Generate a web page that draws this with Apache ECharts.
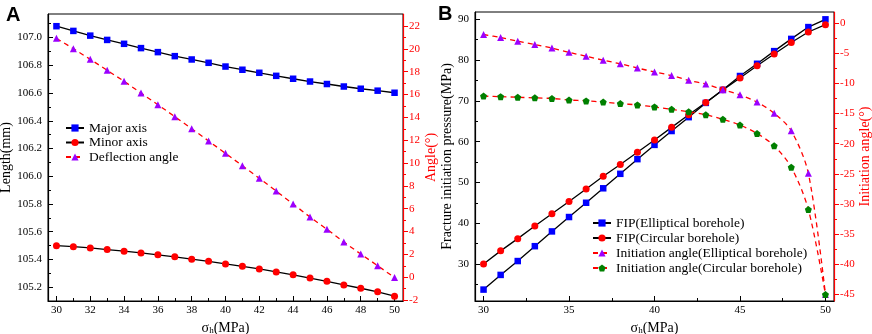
<!DOCTYPE html>
<html>
<head>
<meta charset="utf-8">
<script src="https://cdn.jsdelivr.net/npm/echarts@6/dist/echarts.min.js"></script>
<style>
  html, body { margin: 0; padding: 0; background: #fff; }
  #main { width: 872px; height: 334px; }
</style>
</head>
<body>
<div id="main"></div>
<script>
// x values (sigma_h, MPa), shared by both panels
const sigma = [30, 31, 32, 33, 34, 35, 36, 37, 38, 39, 40, 41, 42, 43, 44, 45, 46, 47, 48, 49, 50];

// panel A
const majorAxis = [107.082, 107.048, 107.014, 106.983, 106.955, 106.924, 106.895, 106.866, 106.842, 106.818,
  106.791, 106.768, 106.746, 106.724, 106.703, 106.683, 106.665, 106.647, 106.631, 106.617, 106.602];
const minorAxis = [105.499, 105.492, 105.483, 105.471, 105.459, 105.447, 105.433, 105.419, 105.402, 105.386,
  105.367, 105.350, 105.331, 105.310, 105.289, 105.265, 105.242, 105.216, 105.192, 105.166, 105.135];
const deflectionAngle = [20.92, 20.01, 19.08, 18.12, 17.16, 16.13, 15.11, 14.06, 13.01, 11.93,
  10.85, 9.76, 8.66, 7.55, 6.41, 5.27, 4.20, 3.08, 2.03, 1.01, -0.03];

// panel B
const fipElliptical = [23.7, 27.3, 30.7, 34.35, 37.97, 41.5, 45.0, 48.55, 52.1, 55.7,
  59.2, 62.6, 66.0, 69.5, 72.7, 76.1, 79.1, 82.2, 85.2, 88.1, 90.0];
const fipCircular = [30.0, 33.2, 36.2, 39.3, 42.3, 45.3, 48.4, 51.5, 54.4, 57.4,
  60.4, 63.5, 66.6, 69.6, 72.7, 75.6, 78.6, 81.5, 84.3, 86.9, 88.7];
const angleElliptical = [-1.9, -2.4, -3.0, -3.55, -4.15, -4.85, -5.5, -6.15, -6.75, -7.45,
  -8.1, -8.7, -9.5, -10.1, -11.05, -11.9, -13.1, -14.95, -17.85, -24.9, -45.0];
const angleCircular = [-12.1, -12.2, -12.3, -12.4, -12.5, -12.75, -12.9, -13.1, -13.35, -13.57,
  -13.9, -14.3, -14.7, -15.2, -15.95, -16.9, -18.3, -20.35, -23.9, -30.9, -45.0];

// tick values
const aXTicks = [30, 32, 34, 36, 38, 40, 42, 44, 46, 48, 50];
const aXMinor = [31, 33, 35, 37, 39, 41, 43, 45, 47, 49];
const aLeftTicks = [105.2, 105.4, 105.6, 105.8, 106.0, 106.2, 106.4, 106.6, 106.8, 107.0];
const aLeftMinor = [105.3, 105.5, 105.7, 105.9, 106.1, 106.3, 106.5, 106.7, 106.9, 107.1];
const aRightTicks = [-2, 0, 2, 4, 6, 8, 10, 12, 14, 16, 18, 20, 22];
const aRightMinor = [-1, 1, 3, 5, 7, 9, 11, 13, 15, 17, 19, 21];
const bXTicks = [30, 35, 40, 45, 50];
const bXMinor = [32.5, 37.5, 42.5, 47.5];
const bLeftTicks = [30, 40, 50, 60, 70, 80, 90];
const bLeftMinor = [25, 35, 45, 55, 65, 75, 85];
const bRightTicks = [0, -5, -10, -15, -20, -25, -30, -35, -40, -45];
const bRightMinor = [-2.5, -7.5, -12.5, -17.5, -22.5, -27.5, -32.5, -37.5, -42.5];

const serif = 'Liberation Serif';
const RED = '#ff0000';
const pentagon = 'path://M0,-1 L0.951,-0.309 L0.588,0.809 L-0.588,0.809 L-0.951,-0.309 Z';

const pairs = ys => ys.map((y, i) => [sigma[i], y]);

// sigma with subscript h
const sigmaName = {
  name: '{m|σ}{s|h}{m|(MPa)}',
  nameLocation: 'middle',
  nameGap: 16,
  nameTextStyle: {
    rich: {
      m: { fontFamily: serif, fontSize: 14, color: '#000', lineHeight: 14 },
      s: { fontFamily: serif, fontSize: 9, color: '#000', padding: [6, 0, 0, 0] }
    }
  }
};

const axis = (gridIndex, position, min, max, o) => ({
  type: 'value',
  gridIndex,
  position,
  min,
  max,
  axisLine: { show: !!o.line, onZero: false, lineStyle: { color: o.color || '#000', width: 1.2 } },
  axisTick: {
    show: true,
    inside: o.inside,
    length: o.minor ? 3 : 5,
    customValues: o.ticks,
    lineStyle: { color: o.color || '#000', width: 1 }
  },
  axisLabel: {
    show: !o.minor,
    customValues: o.minor ? [] : o.ticks,
    margin: o.margin || 6,
    color: o.color || '#000',
    fontFamily: serif,
    fontSize: 11,
    formatter: o.fmt
  },
  splitLine: { show: false },
  ...(o.name ? {
    name: o.name,
    nameLocation: 'middle',
    nameGap: o.gap,
    nameRotate: 90,
    nameTextStyle: { fontFamily: serif, fontSize: 14, color: o.color || '#000' }
  } : {}),
  ...(o.extra || {})
});

const lineSeries = (name, data, xi, yi, o) => ({
  name,
  type: 'line',
  data: pairs(data),
  xAxisIndex: xi,
  yAxisIndex: yi,
  symbol: o.symbol,
  symbolSize: o.size || 7,
  smooth: o.smooth || false,
  itemStyle: { color: o.color, opacity: 1 },
  lineStyle: o.dashed
    ? { color: RED, width: 1.3, type: [5, 4] }
    : { color: '#000', width: 1.3 },
  emphasis: { disabled: true },
  animation: false
});

const chart = echarts.init(document.getElementById('main'));

chart.setOption({
  animation: false,
  title: [
    { text: 'A', left: 1, top: 0, textStyle: { fontFamily: 'Liberation Sans', fontWeight: 'bold', fontSize: 20, color: '#000' } },
    { text: 'B', left: 433, top: -1, textStyle: { fontFamily: 'Liberation Sans', fontWeight: 'bold', fontSize: 20, color: '#000' } }
  ],
  grid: [
    { left: 48, top: 14, width: 355, height: 287, show: true, borderColor: '#000', borderWidth: 1, outerBoundsMode: 'none' },
    { left: 475, top: 12, width: 359, height: 289, show: true, borderColor: '#000', borderWidth: 1, outerBoundsMode: 'none' }
  ],
  legend: [
    {
      data: ['Major axis', 'Minor axis', 'Deflection angle'],
      orient: 'vertical', left: 65, top: 121, padding: 0, itemGap: 0.5,
      itemWidth: 18, itemHeight: 9,
      textStyle: { fontFamily: serif, fontSize: 13.5, color: '#000' }
    },
    {
      data: ['FIP(Elliptical borehole)', 'FIP(Circular borehole)', 'Initiation angle(Elliptical borehole)', 'Initiation angle(Circular borehole)'],
      orient: 'vertical', left: 592, top: 216, padding: 0, itemGap: 1,
      itemWidth: 18, itemHeight: 9,
      textStyle: { fontFamily: serif, fontSize: 13.5, color: '#000' }
    }
  ],
  xAxis: [
    axis(0, 'bottom', 29.5, 50.5, { line: true, inside: true, ticks: aXTicks, margin: 4, extra: sigmaName }),
    axis(0, 'bottom', 29.5, 50.5, { minor: true, inside: true, ticks: aXMinor }),
    axis(1, 'bottom', 29.5, 50.5, { line: true, inside: true, ticks: bXTicks, margin: 4, extra: sigmaName }),
    axis(1, 'bottom', 29.5, 50.5, { minor: true, inside: true, ticks: bXMinor })
  ],
  yAxis: [
    axis(0, 'left', 105.1, 107.17, { line: true, inside: true, ticks: aLeftTicks, fmt: v => v.toFixed(1), name: 'Length(mm)', gap: 28 }),
    axis(0, 'left', 105.1, 107.17, { minor: true, inside: true, ticks: aLeftMinor }),
    axis(0, 'right', -2.08, 23.05, { line: true, inside: false, color: RED, ticks: aRightTicks, name: 'Angle(°)', gap: 10 }),
    axis(0, 'right', -2.08, 23.05, { minor: true, inside: false, color: RED, ticks: aRightMinor }),
    axis(1, 'left', 20.9, 91.8, { line: true, inside: true, ticks: bLeftTicks, name: 'Fracture initiation pressure(MPa)', gap: 21 }),
    axis(1, 'left', 20.9, 91.8, { minor: true, inside: true, ticks: bLeftMinor }),
    axis(1, 'right', -46.06, 1.83, { line: true, inside: false, color: RED, ticks: bRightTicks, name: 'Initiation angle(°)', gap: 21 }),
    axis(1, 'right', -46.06, 1.83, { minor: true, inside: false, color: RED, ticks: bRightMinor })
  ],
  series: [
    lineSeries('Major axis', majorAxis, 0, 0, { symbol: 'rect', size: 6.5, color: '#0000ff' }),
    lineSeries('Minor axis', minorAxis, 0, 0, { symbol: 'circle', size: 7, color: RED }),
    lineSeries('Deflection angle', deflectionAngle, 0, 2, { symbol: 'triangle', size: 7, color: '#9b00ff', dashed: true }),
    lineSeries('FIP(Elliptical borehole)', fipElliptical, 2, 4, { symbol: 'rect', size: 6.5, color: '#0000ff' }),
    lineSeries('FIP(Circular borehole)', fipCircular, 2, 4, { symbol: 'circle', size: 7, color: RED }),
    lineSeries('Initiation angle(Elliptical borehole)', angleElliptical, 2, 6, { symbol: 'triangle', size: 7, color: '#9b00ff', dashed: true, smooth: 0.3 }),
    lineSeries('Initiation angle(Circular borehole)', angleCircular, 2, 6, { symbol: pentagon, size: 7, color: '#008000', dashed: true, smooth: 0.3 })
  ]
});
</script>
</body>
</html>
